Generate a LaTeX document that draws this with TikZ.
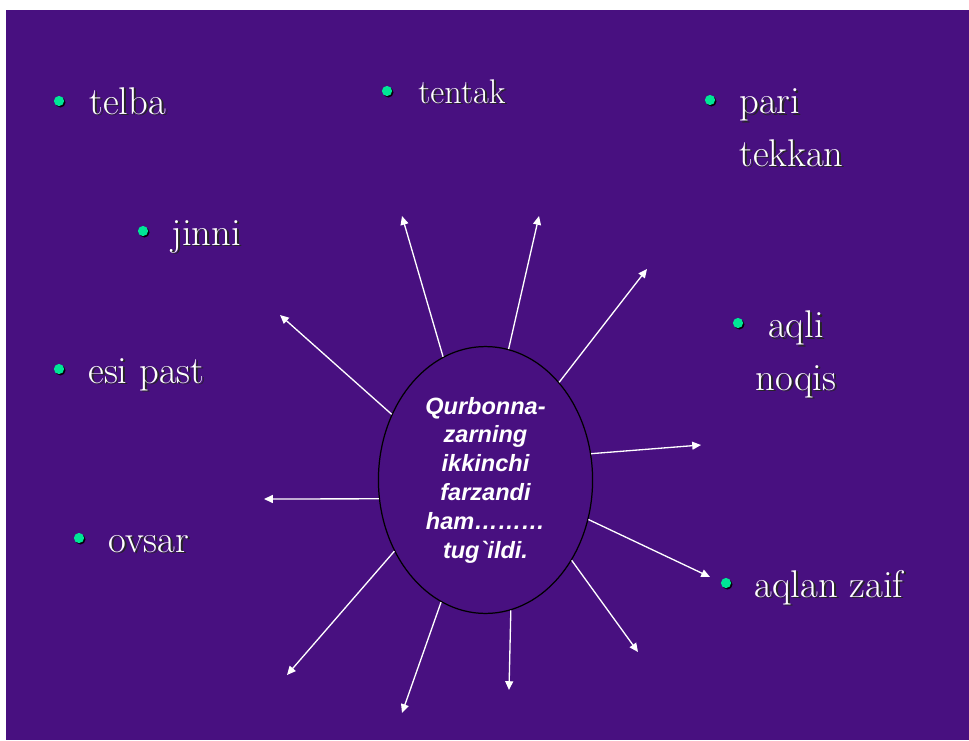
\documentclass[tikz,border=0pt]{standalone}
\usepackage{fontspec}
\setmainfont{Latin Modern Roman}
\newfontfamily\corefont{Liberation Sans}
\usetikzlibrary{arrows.meta,shapes.geometric,shadows}
\definecolor{bgpurple}{RGB}{72,16,128}
\definecolor{dotgreen}{RGB}{0,230,150}
% white word with a dark shadow behind it
\newcommand{\shad}[1]{\leavevmode\rlap{\kern1.1pt\raisebox{-1.1pt}{\color{black!85}#1}}#1}

\begin{document}
\begin{tikzpicture}[x=0.02cm,y=-0.02cm,
  dot/.style={circle,fill=dotgreen,inner sep=0pt,minimum size=5.8pt,
    drop shadow={shadow xshift=0.8pt,shadow yshift=-0.8pt,fill=black,opacity=0.9}},
  word/.style={text=white,inner sep=0pt,font=\fontsize{22}{30}\selectfont},
  ray/.style={white,line width=0.75pt,-{Triangle[length=5pt,width=4.5pt]}}]
  % Background
  \fill[white] (0,0) rectangle (969,740);
  \fill[bgpurple] (6,10) rectangle (969,740);
  \useasboundingbox (0,0) rectangle (969,740);

  % Central ellipse
  \node[ellipse,draw=black,line width=0.7pt,inner sep=0pt,
        minimum width=121.9pt,minimum height=151.9pt,
        text=white,align=center,
        font=\corefont\bfseries\itshape\fontsize{13.4}{16.4}\selectfont]
    (core) at (485.5,480) {Qurbonna-\\zarning\\ikkinchi\\farzandi\\ham\dots\dots\dots\\tug`ildi.};

  % Bullets and words (base of a two-line word = its last line)
  \node[dot] (d1) at (59,101) {};
  \node[word,anchor=base west] (telba) at (89,114) {\shad{telba}};
  \node[dot] (d2) at (387,91) {};
  \node[word,anchor=base west,font=\fontsize{19.5}{30}\selectfont] (tentak) at (418,103) {\shad{tentak}};
  \node[dot] (d3) at (710,100) {};
  \node[word,anchor=base west,align=left] (pari) at (739,166) {\shad{pari}\\\shad{tekkan}};
  \node[dot] (d4) at (143,231) {};
  \node[word,anchor=base west] (jinni) at (171,245) {\shad{jinni}};
  \node[dot] (d5) at (738,323) {};
  \node[word,anchor=base,align=center] (aqli) at (796,390) {\shad{aqli}\\\shad{noqis}};
  \node[dot] (d6) at (59,369) {};
  \node[word,anchor=base west] (esi) at (88,383) {\shad{esi past}};
  \node[dot] (d7) at (79,538) {};
  \node[word,anchor=base west] (ovsar) at (108,552) {\shad{ovsar}};
  \node[dot] (d8) at (726,583) {};
  \node[word,anchor=base west] (zaif) at (754,597) {\shad{aqlan zaif}};

  % Arrow tips
  \coordinate (t1) at (280,315);
  \coordinate (t2) at (402,216);
  \coordinate (t3) at (539,216);
  \coordinate (t4) at (647,269);
  \coordinate (t5) at (701,445);
  \coordinate (t6) at (710,577);
  \coordinate (t7) at (638,652);
  \coordinate (t8) at (509,690);
  \coordinate (t9) at (402,713);
  \coordinate (t10) at (287,675);
  \coordinate (t11) at (264,499);

  % Rays out of the ellipse
  \foreach \a/\t in {145.5/t1,109.7/t2,80.5/t3,53.4/t4,14.6/t5,-21.5/t6,
                     -43.8/t7,-79.5/t8,250.3/t9,218.6/t10,190/t11}
    \draw[ray] (core.\a) -- (\t);
\end{tikzpicture}
\end{document}
